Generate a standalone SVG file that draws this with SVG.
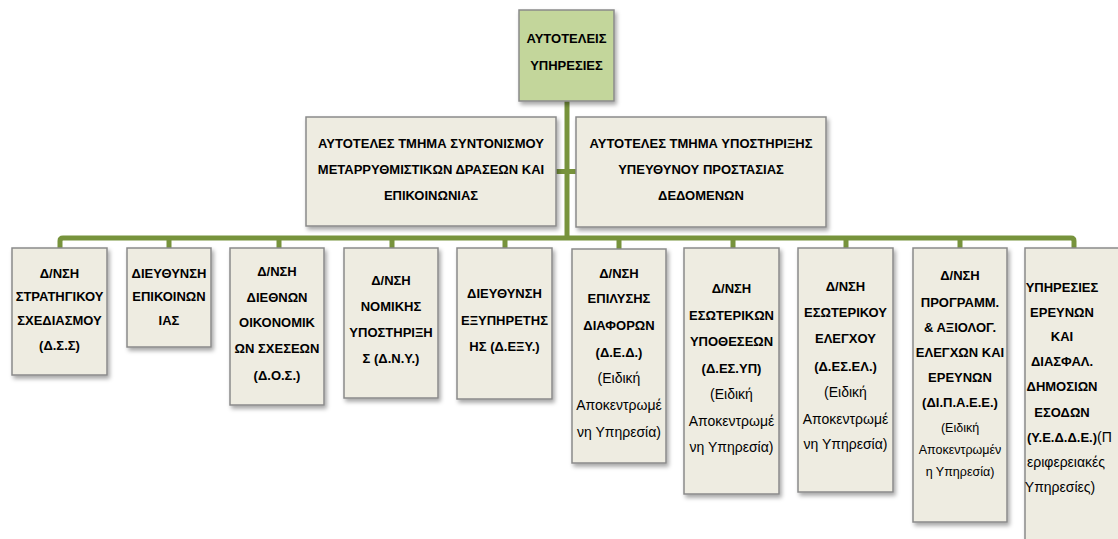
<svg xmlns="http://www.w3.org/2000/svg" width="1118" height="539" viewBox="0 0 1118 539">
<defs>
<filter id="sh" x="-20%" y="-20%" width="150%" height="150%">
<feDropShadow dx="2" dy="3" stdDeviation="2" flood-color="#000" flood-opacity="0.35"/>
</filter>
<style>
.box{fill:#eeece1;stroke:#8a8a8a;stroke-width:1.5;filter:url(#sh)}
.top{fill:#c3d69b;stroke:#8a8a8a;stroke-width:1.5;filter:url(#sh)}
.con{fill:none;stroke:#77933c;stroke-width:5;stroke-linejoin:round}
text{font-family:"Liberation Sans",Arial,sans-serif;font-size:13px;fill:#000;text-anchor:middle}
.b{font-weight:bold}
.r{font-size:14px}
.s{font-size:12.5px}
.st{text-anchor:start}
</style>
</defs>
<g id="connectors">
<path class="con" d="M567,101 V238"/>
<path class="con" d="M556,171.5 H576"/>
<path class="con" d="M60,249 V241 Q60,238 63,238 H1071 Q1074,238 1074,241 V249"/>
<path class="con" d="M169,238 V249 M279,238 V249 M392,238 V249 M505,238 V249 M619,238 V249 M733,238 V249 M846,238 V249 M960,238 V249"/>
</g>
<g id="n-top">
<rect class="top" x="519" y="10" width="95" height="91"/>
<text class="b" x="566.5" y="43">ΑΥΤΟΤΕΛΕΙΣ</text>
<text class="b" x="566.5" y="70">ΥΠΗΡΕΣΙΕΣ</text>
</g>
<g id="n-syntonismou">
<rect class="box" x="306" y="117" width="250" height="109"/>
<text class="b" x="431" y="148">ΑΥΤΟΤΕΛΕΣ ΤΜΗΜΑ ΣΥΝΤΟΝΙΣΜΟΥ</text>
<text class="b" x="431" y="174">ΜΕΤΑΡΡΥΘΜΙΣΤΙΚΩΝ ΔΡΑΣΕΩΝ ΚΑΙ</text>
<text class="b" x="431" y="200">ΕΠΙΚΟΙΝΩΝΙΑΣ</text>
</g>
<g id="n-dpo">
<rect class="box" x="576" y="117" width="250" height="110"/>
<text class="b" x="701" y="148">ΑΥΤΟΤΕΛΕΣ ΤΜΗΜΑ ΥΠΟΣΤΗΡΙΞΗΣ</text>
<text class="b" x="701" y="174">ΥΠΕΥΘΥΝΟΥ ΠΡΟΣΤΑΣΙΑΣ</text>
<text class="b" x="701" y="200">ΔΕΔΟΜΕΝΩΝ</text>
</g>
<g id="n-dss">
<rect class="box" x="12" y="248" width="95" height="127"/>
<text class="b" x="59.5" y="277.5">Δ/ΝΣΗ</text>
<text class="b" x="59.5" y="300.5">ΣΤΡΑΤΗΓΙΚΟΥ</text>
<text class="b" x="59.5" y="324.5">ΣΧΕΔΙΑΣΜΟΥ</text>
<text class="b" x="59.5" y="349.5">(Δ.Σ.Σ)</text>
</g>
<g id="n-epik">
<rect class="box" x="127" y="248" width="84" height="99"/>
<text class="b" x="169" y="277.5">ΔΙΕΥΘΥΝΣΗ</text>
<text class="b" x="169" y="300.5">ΕΠΙΚΟΙΝΩΝ</text>
<text class="b" x="169" y="324.5">ΙΑΣ</text>
</g>
<g id="n-dos">
<rect class="box" x="230" y="248" width="94" height="157"/>
<text class="b" x="277" y="275.5">Δ/ΝΣΗ</text>
<text class="b" x="277" y="301.5">ΔΙΕΘΝΩΝ</text>
<text class="b" x="277" y="326.5">ΟΙΚΟΝΟΜΙΚ</text>
<text class="b" x="277" y="352.5">ΩΝ ΣΧΕΣΕΩΝ</text>
<text class="b" x="277" y="379.5">(Δ.Ο.Σ.)</text>
</g>
<g id="n-dny">
<rect class="box" x="344" y="248" width="94" height="150"/>
<text class="b" x="391" y="284.5">Δ/ΝΣΗ</text>
<text class="b" x="391" y="310.5">ΝΟΜΙΚΗΣ</text>
<text class="b" x="391" y="336.5">ΥΠΟΣΤΗΡΙΞΗ</text>
<text class="b" x="391" y="362.5">Σ (Δ.Ν.Υ.)</text>
</g>
<g id="n-dexy">
<rect class="box" x="457" y="248" width="95" height="151"/>
<text class="b" x="504.5" y="298">ΔΙΕΥΘΥΝΣΗ</text>
<text class="b" x="504.5" y="324.5">ΕΞΥΠΗΡΕΤΗΣ</text>
<text class="b" x="504.5" y="351">ΗΣ (Δ.ΕΞΥ.)</text>
</g>
<g id="n-ded">
<rect class="box" x="572" y="249" width="94" height="214"/>
<text class="b" x="619" y="277.5">Δ/ΝΣΗ</text>
<text class="b" x="619" y="302.5">ΕΠΙΛΥΣΗΣ</text>
<text class="b" x="619" y="329.5">ΔΙΑΦΟΡΩΝ</text>
<text class="b" x="619" y="356.5">(Δ.Ε.Δ.)</text>
<text class="r" x="619" y="382.5">(Ειδική</text>
<text class="r" x="619" y="409.5">Αποκεντρωμέ</text>
<text class="r" x="619" y="436.5">νη Υπηρεσία)</text>
</g>
<g id="n-desyp">
<rect class="box" x="684" y="248" width="95" height="246"/>
<text class="b" x="731.5" y="292.5">Δ/ΝΣΗ</text>
<text class="b" x="731.5" y="319.5">ΕΣΩΤΕΡΙΚΩΝ</text>
<text class="b" x="731.5" y="345.5">ΥΠΟΘΕΣΕΩΝ</text>
<text class="b" x="731.5" y="372.5">(Δ.ΕΣ.ΥΠ)</text>
<text class="r" x="731.5" y="398.5">(Ειδική</text>
<text class="r" x="731.5" y="425.5">Αποκεντρωμέ</text>
<text class="r" x="731.5" y="451.5">νη Υπηρεσία)</text>
</g>
<g id="n-desel">
<rect class="box" x="798" y="248" width="95" height="244"/>
<text class="b" x="845.5" y="290.5">Δ/ΝΣΗ</text>
<text class="b" x="845.5" y="316.5">ΕΣΩΤΕΡΙΚΟΥ</text>
<text class="b" x="845.5" y="342.5">ΕΛΕΓΧΟΥ</text>
<text class="b" x="845.5" y="370.5">(Δ.ΕΣ.ΕΛ.)</text>
<text class="r" x="845.5" y="396.5">(Ειδική</text>
<text class="r" x="845.5" y="423.5">Αποκεντρωμέ</text>
<text class="r" x="845.5" y="448.5">νη Υπηρεσία)</text>
</g>
<g id="n-dipaee">
<rect class="box" x="913" y="248" width="94" height="274"/>
<text class="b" x="960" y="279.5">Δ/ΝΣΗ</text>
<text class="b" x="960" y="306.5">ΠΡΟΓΡΑΜΜ.</text>
<text class="b" x="960" y="331.5">&amp; ΑΞΙΟΛΟΓ.</text>
<text class="b" x="960" y="356.5">ΕΛΕΓΧΩΝ ΚΑΙ</text>
<text class="b" x="960" y="381.5">ΕΡΕΥΝΩΝ</text>
<text class="b" x="960" y="406.5">(ΔΙ.Π.Α.Ε.Ε.)</text>
<text class="s" x="960" y="432">(Ειδική</text>
<text class="s" x="960" y="454">Αποκεντρωμέν</text>
<text class="s" x="960" y="476">η Υπηρεσία)</text>
</g>
<g id="n-yedde">
<rect class="box" x="1025" y="248" width="96" height="300"/>
<text class="b" x="1062" y="291.5">ΥΠΗΡΕΣΙΕΣ</text>
<text class="b" x="1062" y="316.5">ΕΡΕΥΝΩΝ</text>
<text class="b" x="1062" y="340.5">ΚΑΙ</text>
<text class="b" x="1062" y="365.5">ΔΙΑΣΦΑΛ.</text>
<text class="b" x="1062" y="390.5">ΔΗΜΟΣΙΩΝ</text>
<text class="b" x="1062" y="416.5">ΕΣΟΔΩΝ</text>
<text class="st" x="1027" y="441.5"><tspan class="b">(Υ.Ε.Δ.Δ.Ε.)</tspan><tspan class="r">(Π</tspan></text>
<text class="r st" x="1027" y="466.5">εριφερειακές</text>
<text class="r" x="1060" y="491.5">Υπηρεσίες)</text>
</g>
</svg>
